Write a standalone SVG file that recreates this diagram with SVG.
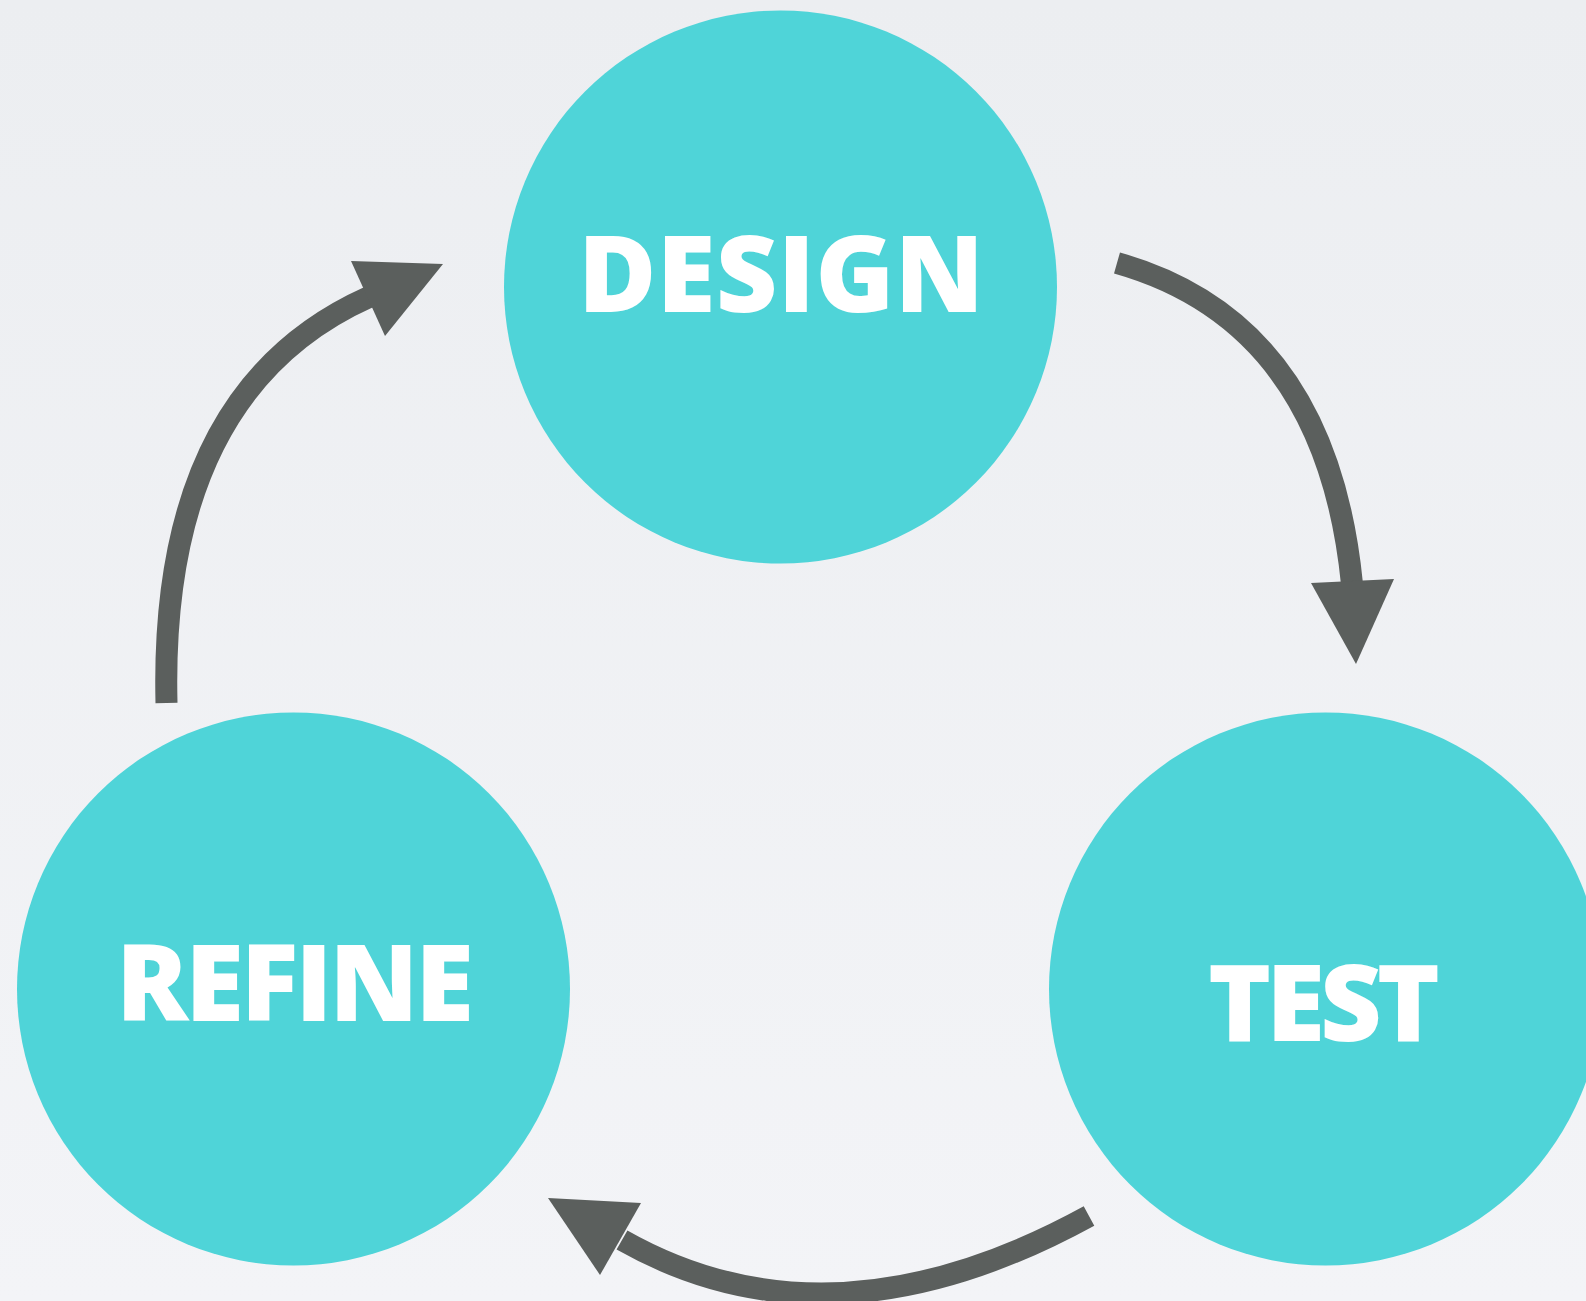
<svg xmlns="http://www.w3.org/2000/svg" width="1586" height="1301" viewBox="0 0 1586 1301">
<defs>
<linearGradient id="bg" x1="0" y1="0" x2="0" y2="1">
<stop offset="0" stop-color="#eceef1"/>
<stop offset="1" stop-color="#f3f4f7"/>
</linearGradient>
<style>
.node{fill:#4fd4d8}
.label{font-family:"Open Sans","Noto Sans","Liberation Sans",sans-serif;font-weight:800;font-size:107px;fill:#ffffff}
.conn{fill:none;stroke:#5b5f5d;stroke-width:22}
.head{fill:#5b5f5d}
</style>
</defs>
<rect x="0" y="0" width="1586" height="1301" fill="url(#bg)"/>
<g id="design">
<circle class="node" cx="780.5" cy="287" r="276.5"/>
<text class="label" x="578" y="312" textLength="406" lengthAdjust="spacing">DESIGN</text>
</g>
<g id="refine">
<circle class="node" cx="293.5" cy="989" r="276.5"/>
<text class="label" x="116" y="1021" textLength="358" lengthAdjust="spacing">REFINE</text>
</g>
<g id="test">
<circle class="node" cx="1325.5" cy="989" r="276.5"/>
<text class="label" x="1208" y="1041" textLength="232" lengthAdjust="spacing">TEST</text>
</g>
<g id="connectors">
<path class="conn" d="M1117 263 Q1326 322 1352 584"/>
<polygon class="head" points="1311,583 1394,579 1356,664"/>
<path class="conn" d="M166.5 703 Q159 391 369 297"/>
<polygon class="head" points="351,261 443,264 385,336"/>
<path class="conn" d="M1089 1216 Q830 1358 622 1240"/>
<polygon class="head" points="641,1203 548,1198 600,1275"/>
</g>
</svg>
